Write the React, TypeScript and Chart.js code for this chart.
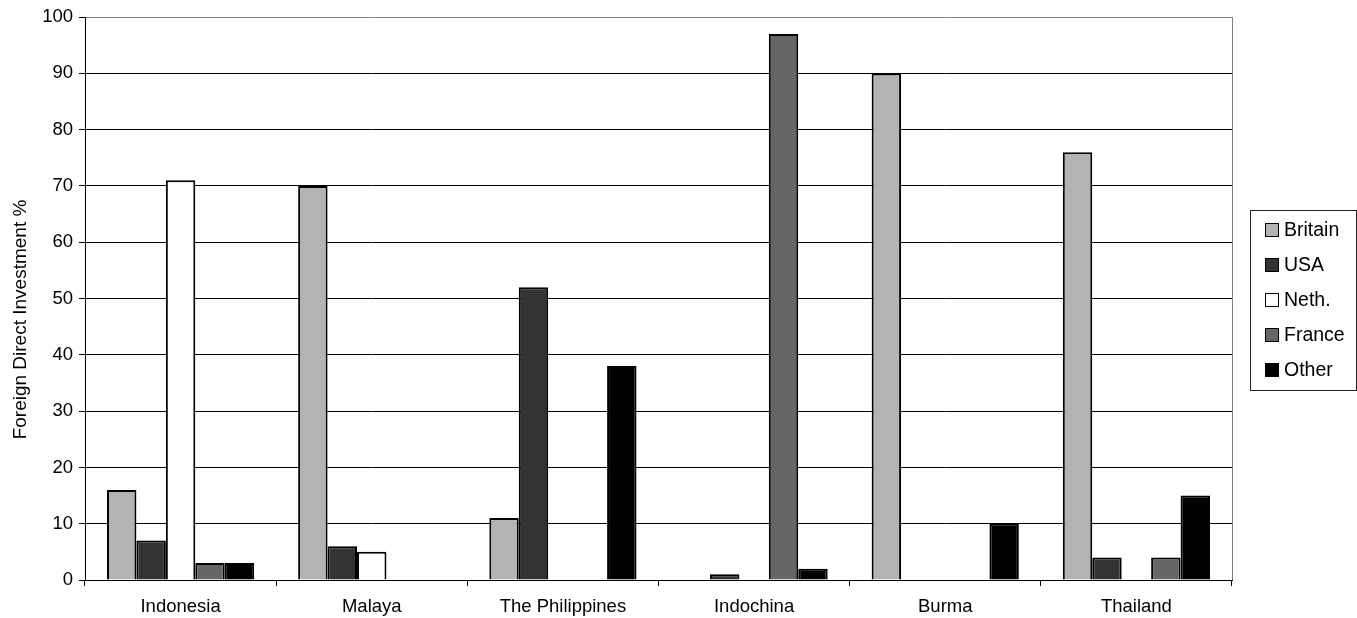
import { useEffect, useRef } from 'react';
import { Chart, registerables } from 'chart.js';

Chart.register(...registerables);

// Share of foreign direct investment by source country, per territory (%)
const categories = ['Indonesia', 'Malaya', 'The Philippines', 'Indochina', 'Burma', 'Thailand'];
const britain = [16, 70, 11, null, 90, 76];
const usa = [7, 6, 52, 1, null, 4];
const neth = [71, 5, null, null, null, null];
const france = [3, null, null, 97, null, 4];
const other = [3, null, 38, 2, 10, 15];

const seriesNames = ['Britain', 'USA', 'Neth.', 'France', 'Other'];
const seriesColors = ['#b3b3b3', '#333333', '#ffffff', '#666666', '#000000'];
const yTicks = { min: 0, max: 100, step: 10 };
const yTitle = 'Foreign Direct Investment %';

const FONT = '"Liberation Sans", Arial, sans-serif';

// Gray plot frame on the right, boxed legend and the rotated y-axis title.
const decorations = {
  id: 'decorations',
  beforeDatasetsDraw(chart: any) {
    const { ctx, chartArea } = chart;
    const x = Math.round(chartArea.right) + 0.5;
    ctx.save();
    ctx.strokeStyle = '#808080';
    ctx.lineWidth = 1;
    ctx.beginPath();
    ctx.moveTo(x, chartArea.top);
    ctx.lineTo(x, chartArea.bottom);
    ctx.stroke();
    ctx.restore();
  },
  afterDraw(chart: any) {
    const { ctx, chartArea } = chart;
    ctx.save();

    // legend frame
    ctx.strokeStyle = '#222';
    ctx.lineWidth = 1;
    ctx.strokeRect(1250.5, 210.5, 106, 180);

    // legend entries
    ctx.font = `19.5px ${FONT}`;
    ctx.textBaseline = 'middle';
    ctx.textAlign = 'left';
    chart.data.datasets.forEach((ds: any, i: number) => {
      const cy = 230 + i * 35;
      ctx.fillStyle = ds.backgroundColor;
      ctx.fillRect(1265, cy - 7, 14, 14);
      ctx.strokeStyle = '#000';
      ctx.lineWidth = 1;
      ctx.strokeRect(1265.5, cy - 6.5, 13, 13);
      ctx.fillStyle = '#000';
      ctx.fillText(ds.label, 1284, cy + 1);
    });

    // y-axis title
    ctx.translate(26, 319.5);
    ctx.rotate(-Math.PI / 2);
    ctx.textAlign = 'center';
    ctx.textBaseline = 'alphabetic';
    ctx.font = `19px ${FONT}`;
    ctx.fillStyle = '#000';
    ctx.fillText(yTitle, 0, 0);
    ctx.restore();
    void chartArea;
  },
};

export default function App() {
  const canvasRef = useRef<HTMLCanvasElement | null>(null);

  useEffect(() => {
    const canvas = canvasRef.current;
    if (!canvas) return;
    const values = [britain, usa, neth, france, other];
    const chart = new Chart(canvas, {
      type: 'bar',
      data: {
        labels: categories,
        datasets: seriesNames.map((name, i) => ({
          label: name,
          data: values[i],
          backgroundColor: seriesColors[i],
          borderColor: '#000',
          borderWidth: 2,
          categoryPercentage: 0.77,
          barPercentage: 1,
        })),
      },
      options: {
        responsive: false,
        animation: false,
        devicePixelRatio: 1,
        layout: { padding: { left: 0, right: 125, top: 14, bottom: 0 } },
        plugins: {
          legend: { display: false },
          tooltip: { enabled: false },
          title: { display: false },
        },
        scales: {
          x: {
            offset: true,
            grid: {
              offset: true,
              drawOnChartArea: false,
              tickLength: 6,
              color: '#000',
              lineWidth: 1,
            },
            border: { color: '#000', width: 1 },
            ticks: {
              color: '#000',
              font: { family: FONT, size: 18.5 },
              padding: 10,
              maxRotation: 0,
              autoSkip: false,
            },
            afterFit: (s: any) => {
              s.height = 38;
            },
          },
          y: {
            min: yTicks.min,
            max: yTicks.max,
            ticks: {
              stepSize: yTicks.step,
              color: '#000',
              font: { family: FONT, size: 18.5 },
              padding: 6,
            },
            grid: {
              color: (c: any) => (c.tick && c.tick.value === yTicks.max ? '#808080' : '#000'),
              tickColor: '#000',
              lineWidth: 1,
              tickLength: 6,
            },
            border: { color: '#000', width: 1 },
            afterFit: (s: any) => {
              s.width = 85;
            },
          },
        },
      },
      plugins: [decorations],
    });
    return () => chart.destroy();
  }, []);

  return (
    <div style={{ position: 'absolute', left: 0, top: 0, width: 1357, height: 618, background: '#fff' }}>
      <canvas ref={canvasRef} width={1357} height={618} style={{ display: 'block' }} />
    </div>
  );
}
